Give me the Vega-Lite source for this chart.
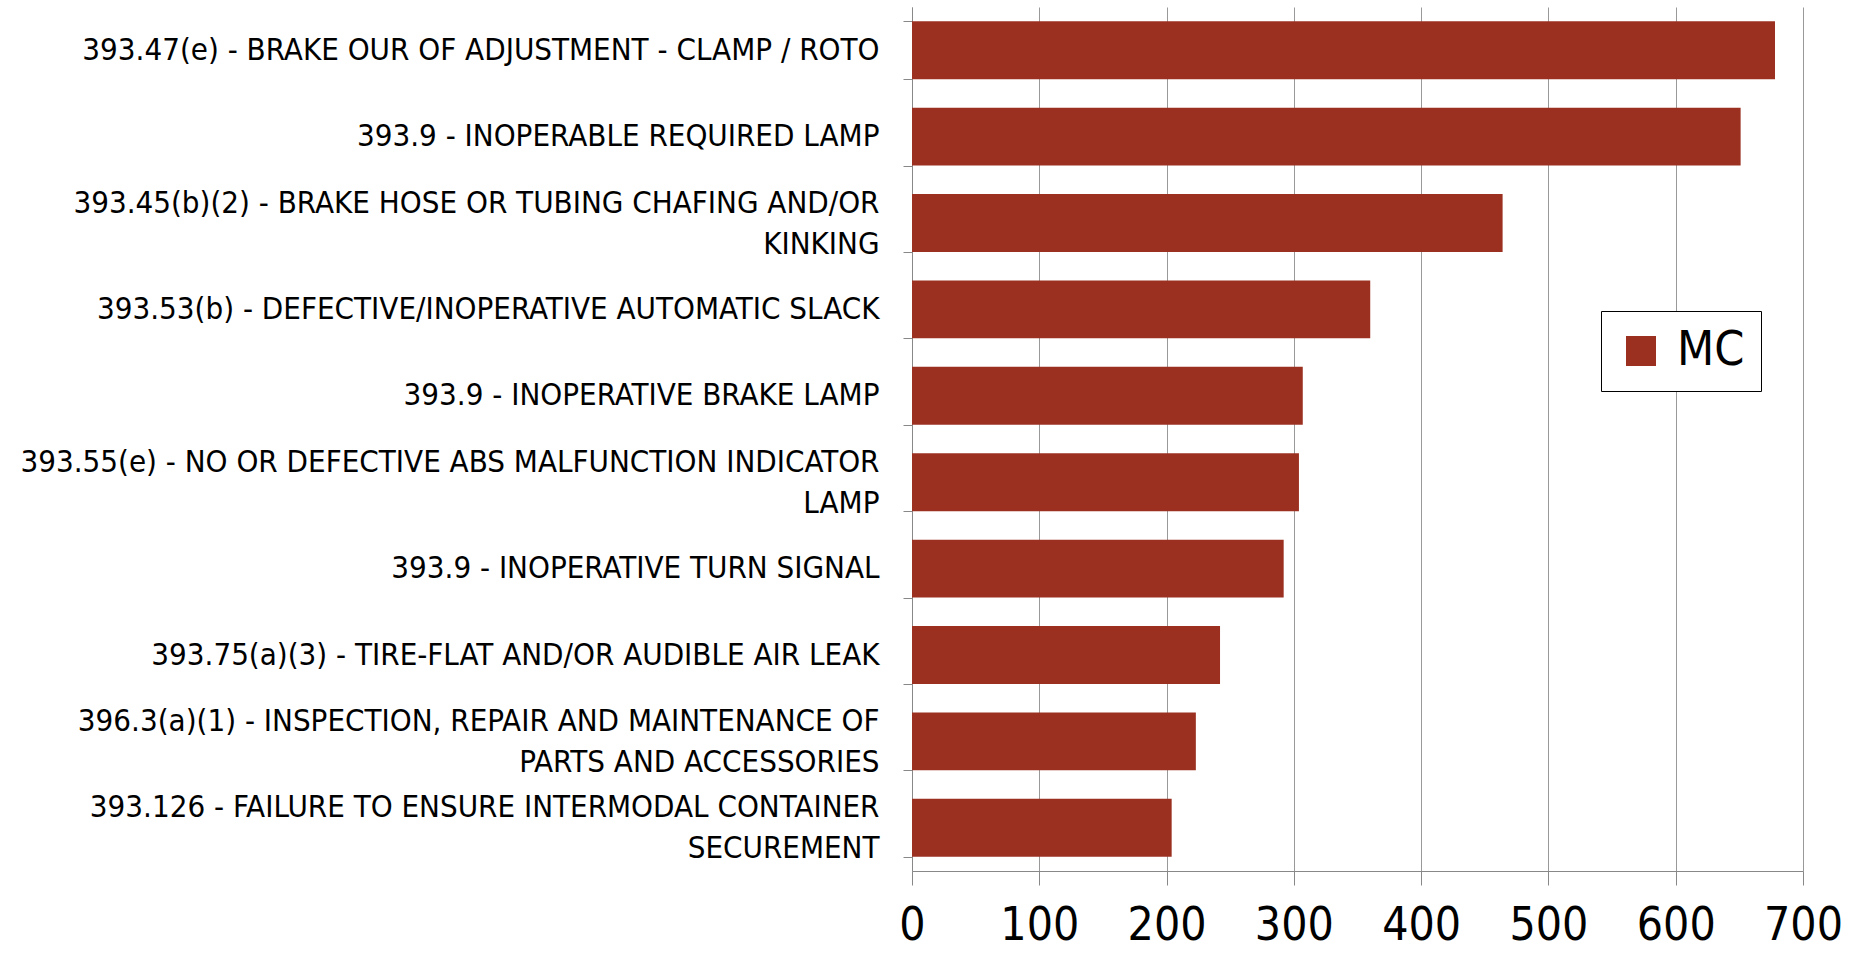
{
  "$schema": "https://vega.github.io/schema/vega-lite/v6.json",
  "autosize": {"type": "none"},
  "padding": {"left": 912, "top": 7, "right": 46, "bottom": 82},
  "width": 891,
  "height": 864,
  "background": "white",
  "data": {
    "values": [
      {"violation": "393.47(e) - BRAKE OUR OF ADJUSTMENT - CLAMP / ROTO", "count": 678, "series": "MC"},
      {"violation": "393.9 - INOPERABLE REQUIRED LAMP", "count": 651, "series": "MC"},
      {"violation": "393.45(b)(2) - BRAKE HOSE OR TUBING CHAFING AND/OR|KINKING", "count": 464, "series": "MC"},
      {"violation": "393.53(b) - DEFECTIVE/INOPERATIVE AUTOMATIC SLACK", "count": 360, "series": "MC"},
      {"violation": "393.9 - INOPERATIVE BRAKE LAMP", "count": 307, "series": "MC"},
      {"violation": "393.55(e) - NO OR DEFECTIVE ABS MALFUNCTION INDICATOR|LAMP", "count": 304, "series": "MC"},
      {"violation": "393.9 - INOPERATIVE TURN SIGNAL", "count": 292, "series": "MC"},
      {"violation": "393.75(a)(3) - TIRE-FLAT AND/OR AUDIBLE AIR LEAK", "count": 242, "series": "MC"},
      {"violation": "396.3(a)(1) - INSPECTION, REPAIR AND MAINTENANCE OF|PARTS AND ACCESSORIES", "count": 223, "series": "MC"},
      {"violation": "393.126 - FAILURE TO ENSURE INTERMODAL CONTAINER|SECUREMENT", "count": 204, "series": "MC"}
    ]
  },
  "mark": {"type": "bar", "color": "#9b3021"},
  "encoding": {
    "y": {
      "field": "violation",
      "type": "nominal",
      "sort": {"field": "count", "order": "descending"},
      "scale": {"paddingInner": 0.33, "paddingOuter": 0.165},
      "axis": {
        "title": null,
        "labelExpr": "split(datum.label, '|')",
        "labelFont": "DejaVu Sans Condensed, Liberation Sans, sans-serif",
        "labelFontSize": 31,
        "labelColor": "black",
        "labelLimit": 900,
        "labelLineHeight": 41,
        "labelPadding": 24,
        "labelOffset": {"condition": {"test": "indexof(datum.label, '|') >= 0", "value": -20}, "value": 0},
        "tickBand": "extent",
        "tickSize": 9,
        "tickColor": "#888888",
        "domainColor": "#888888",
        "grid": false
      }
    },
    "x": {
      "field": "count",
      "type": "quantitative",
      "scale": {"domain": [0, 700], "nice": false},
      "axis": {
        "title": null,
        "values": [0, 100, 200, 300, 400, 500, 600, 700],
        "labelFont": "DejaVu Sans Condensed, Liberation Sans, sans-serif",
        "labelFontSize": 46,
        "labelColor": "black",
        "labelPadding": 18,
        "labelOverlap": false,
        "labelFlush": false,
        "tickSize": 14,
        "tickColor": "#888888",
        "domainColor": "#888888",
        "grid": true,
        "gridColor": "#999999",
        "gridWidth": 1
      }
    },
    "color": {
      "field": "series",
      "type": "nominal",
      "scale": {"range": ["#9b3021"]},
      "legend": {
        "title": null,
        "orient": "none",
        "legendX": 689,
        "legendY": 304,
        "symbolType": "square",
        "symbolSize": 900,
        "labelFont": "DejaVu Sans Condensed, Liberation Sans, sans-serif",
        "labelFontSize": 48,
        "labelColor": "black",
        "strokeColor": "black",
        "fillColor": "white",
        "padding": 16,
        "symbolStrokeWidth": 0,
        "labelOffset": 12
      }
    }
  },
  "config": {"view": {"stroke": null}}
}
